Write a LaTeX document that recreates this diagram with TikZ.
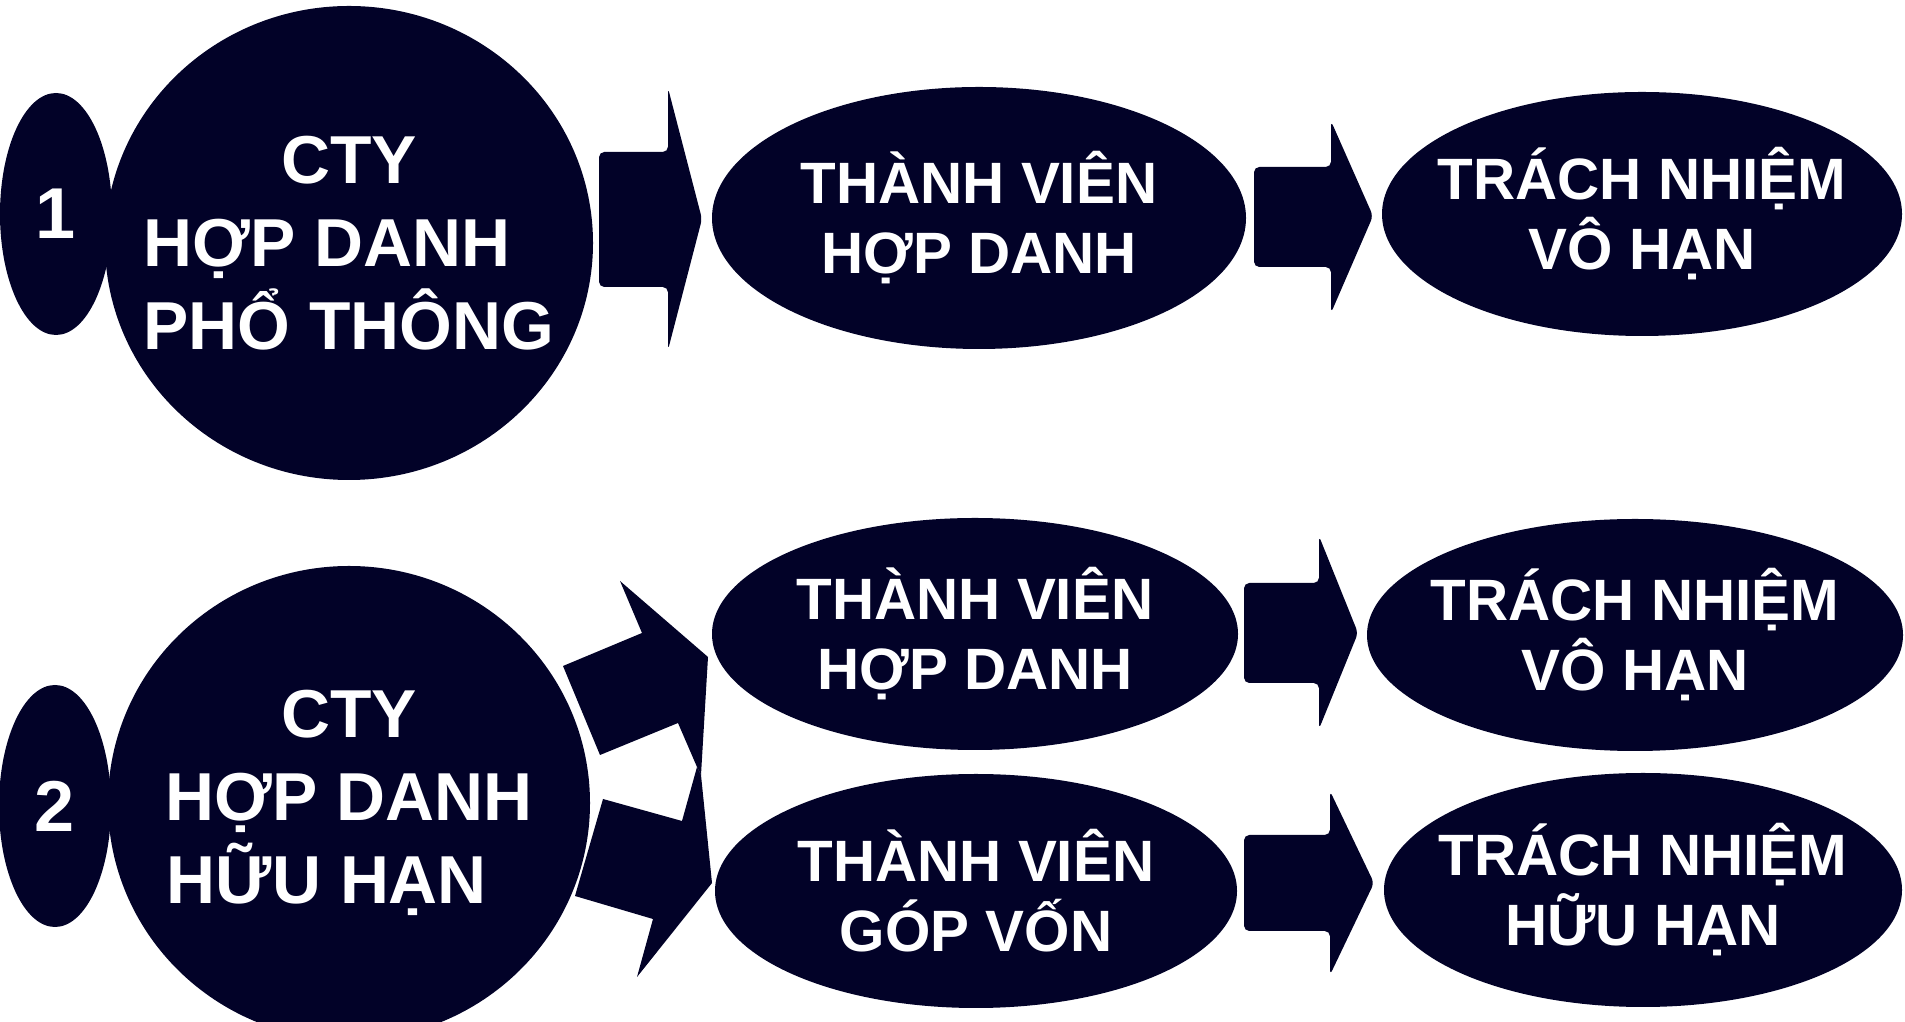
\documentclass[tikz,border=0pt]{standalone}
\usepackage{fontspec}
\setmainfont{Liberation Sans}
\usetikzlibrary{shapes.geometric}
\definecolor{navy}{RGB}{2,2,40}

\begin{document}
\begin{tikzpicture}[
    blob/.style={ellipse, fill=navy, text=white, inner xsep=-1cm, inner ysep=0pt, align=center},
    numtxt/.style={font=\fontsize{20.5}{24}\selectfont\bfseries},
    cotxt/.style={font=\fontsize{19.3}{23.6}\selectfont\bfseries},
    tvtxt/.style={font=\fontsize{16.6}{19.9}\selectfont\bfseries},
    blockarrow/.style={fill=navy, rounded corners=1.5pt}
]
\useasboundingbox (0,0) rectangle (19.05,10.22);

\node[blob, numtxt, minimum width=1.12cm, minimum height=2.42cm] (num1) at (0.56,8.08) {1};
\node[blob, cotxt, minimum width=4.88cm, minimum height=4.74cm] (co1) at (3.49,7.79)
    {CTY\\HỢP DANH\makebox[0.44cm]{}\\PHỔ THÔNG};
\fill[blockarrow] (5.99,7.35) -- (6.68,7.35) -- (6.68,6.72) -- (7.02,8.03)
    -- (6.68,9.34) -- (6.68,8.70) -- (5.99,8.70) -- cycle;
\node[blob, tvtxt, minimum width=5.34cm, minimum height=2.62cm] (tv1) at (9.79,8.04)
    {THÀNH VIÊN\\HỢP DANH};
\fill[blockarrow] (12.54,7.55) -- (13.31,7.55) -- (13.31,7.09) -- (13.73,8.06)
    -- (13.31,9.01) -- (13.31,8.55) -- (12.54,8.55) -- cycle;
\node[blob, tvtxt, minimum width=5.20cm, minimum height=2.44cm] (tn1) at (16.42,8.08)
    {TRÁCH NHIỆM\\VÔ HẠN};

\node[blob, numtxt, minimum width=1.12cm, minimum height=2.42cm] (num2) at (0.55,2.16) {2};
\node[blob, cotxt, minimum width=4.82cm, minimum height=4.74cm] (co2) at (3.49,2.19)
    {CTY\\HỢP DANH\\HỮU HẠN\makebox[0.44cm]{}};
\fill[navy] (5.63,3.56) -- (6.42,3.89) -- (6.20,4.41) -- (7.08,3.65) -- (7.01,2.47)
    -- (6.97,2.55) -- (6.78,2.99) -- (6.00,2.67) -- cycle;
\fill[navy] (6.03,2.23) -- (6.82,2.01) -- (6.97,2.55) -- (7.01,2.47) -- (7.12,1.39)
    -- (6.37,0.45) -- (6.53,1.03) -- (5.75,1.26) -- cycle;
\node[blob, tvtxt, minimum width=5.26cm, minimum height=2.32cm] (tv2) at (9.75,3.88)
    {THÀNH VIÊN\\HỢP DANH};
\fill[blockarrow] (12.44,3.39) -- (13.19,3.39) -- (13.19,2.93) -- (13.58,3.89)
    -- (13.19,4.86) -- (13.19,4.39) -- (12.44,4.39) -- cycle;
\node[blob, tvtxt, minimum width=5.36cm, minimum height=2.32cm] (tn2) at (16.35,3.87)
    {TRÁCH NHIỆM\\VÔ HẠN};
\node[blob, tvtxt, minimum width=5.22cm, minimum height=2.34cm] (gv) at (9.76,1.31)
    {THÀNH VIÊN\\GÓP VỐN};
\fill[blockarrow] (12.44,0.91) -- (13.30,0.91) -- (13.30,0.47) -- (13.74,1.39)
    -- (13.30,2.31) -- (13.30,1.87) -- (12.44,1.87) -- cycle;
\node[blob, tvtxt, minimum width=5.18cm, minimum height=2.34cm] (th2) at (16.43,1.32)
    {TRÁCH NHIỆM\\HỮU HẠN};
\end{tikzpicture}
\end{document}
